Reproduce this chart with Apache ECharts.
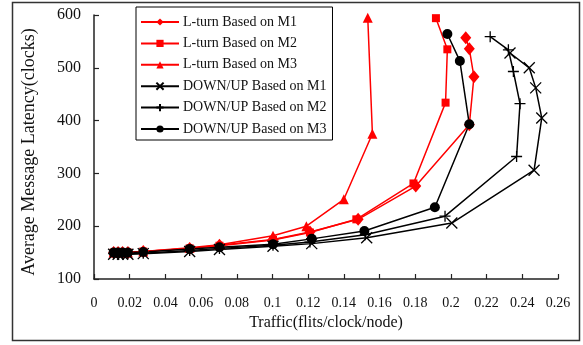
<!DOCTYPE html>
<html>
<head>
<meta charset="utf-8">
<script src="https://cdn.jsdelivr.net/npm/echarts@6/dist/echarts.min.js"></script>
<style>
html,body{margin:0;padding:0;background:#fff;}
#chart{width:583px;height:345px;}
</style>
</head>
<body>
<div id="chart"></div>
<script>
// ---- data ----
const seriesNames = [
  'L-turn Based on M1',
  'L-turn Based on M2',
  'L-turn Based on M3',
  'DOWN/UP Based on M1',
  'DOWN/UP Based on M2',
  'DOWN/UP Based on M3'
];
const ltM1X = [0.011,0.0135,0.016,0.019,0.0276,0.0536,0.0703,0.1003,0.121,0.148,0.1803,0.2103,0.2129,0.2103,0.2083];
const ltM1Y = [150,150,150,150,152,158,164,175,189,213,276,392,483,536,557];
const ltM2X = [0.011,0.0135,0.016,0.019,0.0276,0.0536,0.0703,0.1003,0.121,0.147,0.179,0.197,0.198,0.1916];
const ltM2Y = [150,150,150,150,152,158,163,174,188,213,281,434,535,594];
const ltM3X = [0.011,0.0135,0.016,0.019,0.0276,0.0536,0.0703,0.1003,0.119,0.140,0.156,0.1534];
const ltM3Y = [150,150,150,150,152,159,165,182,200,251,375,595];
const duM1X = [0.011,0.0135,0.016,0.019,0.0276,0.0536,0.0703,0.1003,0.122,0.1528,0.2005,0.2466,0.2509,0.2475,0.2439,0.2331];
const duM1Y = [147,147,147,147,148,152,156,162,167,178,206,306,405,462,500,528];
const duM2X = [0.011,0.0135,0.016,0.019,0.0276,0.0536,0.0703,0.1003,0.121,0.152,0.1967,0.2368,0.2387,0.235,0.2322,0.222];
const duM2Y = [148,148,148,148,149,154,158,164,170,184,219,332,432,493,534,559];
const duM3X = [0.011,0.0135,0.016,0.019,0.0276,0.0536,0.0703,0.1003,0.122,0.1515,0.191,0.2103,0.205,0.198];
const duM3Y = [150,150,150,150,151,157,160,166,176,191,236,393,513,564];
const xTicks = [0,0.02,0.04,0.06,0.08,0.1,0.12,0.14,0.16,0.18,0.2,0.22,0.24,0.26];
const yTicks = [100,200,300,400,500,600];
const xTitle = 'Traffic(flits/clock/node)';
const yTitle = 'Average Message Latency(clocks)';

// ---- build ----
function pairs(xs, ys){ return xs.map((x,i)=>[x, ys[i]]); }
const FONT = 'Liberation Serif';
const RED = '#ff0000', BLACK = '#000000';
const xPath = 'path://M0,0L10,10M10,0L0,10';
const plusPath = 'path://M5,0L5,10M0,5L10,5';

function mk(name, xs, ys, color, symbol, size, stroke){
  return {
    name: name, type: 'line', data: pairs(xs, ys),
    symbol: symbol, symbolSize: size, showSymbol: true,
    lineStyle: {color: color, width: 1.5},
    itemStyle: stroke ? {color: color, borderColor: color, borderWidth: 1.3} : {color: color, borderWidth: 0},
    emphasis: {disabled: true},
    z: 2
  };
}

const series = [
  mk(seriesNames[0], ltM1X, ltM1Y, RED, 'diamond', [11,13], false),
  mk(seriesNames[1], ltM2X, ltM2Y, RED, 'rect', 8, false),
  mk(seriesNames[2], ltM3X, ltM3Y, RED, 'triangle', 10, false),
  mk(seriesNames[3], duM1X, duM1Y, BLACK, xPath, 11, true),
  mk(seriesNames[4], duM2X, duM2Y, BLACK, plusPath, 11, true),
  mk(seriesNames[5], duM3X, duM3Y, BLACK, 'circle', 10, false)
];

const chart = echarts.init(document.getElementById('chart'), null, {renderer: 'canvas'});
chart.setOption({
  animation: false,
  backgroundColor: '#fff',
  graphic: [{
    type: 'rect', silent: true, z: 0,
    shape: {x: 12.5, y: 2.5, width: 567, height: 338},
    style: {fill: 'none', stroke: '#333', lineWidth: 1.5}
  }, {
    type: 'text', silent: true, x: 29, y: 152, rotation: Math.PI / 2,
    style: {text: yTitle, font: '18px "Liberation Serif"', fill: '#111',
      align: 'center', verticalAlign: 'middle'}
  }],
  grid: {left: 94, right: 25, top: 15, bottom: 66, containLabel: false},
  legend: {
    orient: 'vertical', left: 136, top: 7,
    padding: [8, 6, 4, 4],
    itemWidth: 38, itemHeight: 9, itemGap: 7.4,
    borderColor: '#000', borderWidth: 1, backgroundColor: '#fff',
    textStyle: {fontFamily: FONT, fontSize: 14, color: '#111', padding: [0,0,0,-1]},
    data: seriesNames,
    selectedMode: false
  },
  xAxis: {
    type: 'value', min: xTicks[0], max: xTicks[xTicks.length-1], interval: 0.02,
    name: xTitle, nameLocation: 'middle', nameGap: 35,
    nameTextStyle: {fontFamily: FONT, fontSize: 16, color: '#111'},
    axisLine: {show: true, onZero: false, lineStyle: {color: '#222', width: 1.5}},
    axisTick: {show: true, inside: true, length: 5, lineStyle: {color: '#222', width: 1.2}},
    axisLabel: {fontFamily: FONT, fontSize: 14, color: '#111', margin: 17,
      formatter: v => String(parseFloat(v.toFixed(2)))},
    splitLine: {show: false}
  },
  yAxis: {
    type: 'value', min: yTicks[0], max: yTicks[yTicks.length-1], interval: 100,
    axisLine: {show: true, onZero: false, lineStyle: {color: '#222', width: 1.5}},
    axisTick: {show: true, inside: true, length: 5, lineStyle: {color: '#222', width: 1.2}},
    axisLabel: {fontFamily: FONT, fontSize: 16, color: '#111', margin: 13},
    splitLine: {show: false}
  },
  series: series
});
</script>
</body>
</html>
